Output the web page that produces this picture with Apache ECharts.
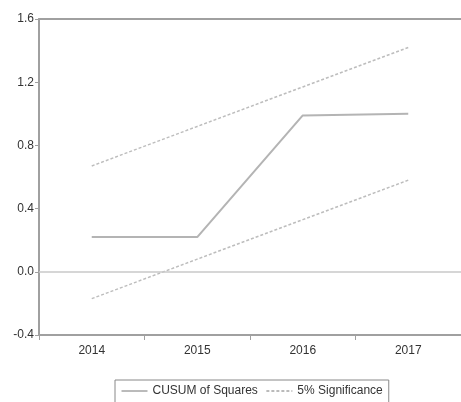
<!DOCTYPE html>
<html>
<head>
<meta charset="utf-8">
<script src="https://cdn.jsdelivr.net/npm/echarts@6/dist/echarts.min.js"></script>
<style>
html,body{margin:0;padding:0;background:#fff;}
#chart{width:461px;height:402px;}
</style>
</head>
<body>
<div id="chart"></div>
<script>
// Recursive residual test: CUSUM of squares with 5% significance bounds
const years = ['2014', '2015', '2016', '2017'];
const cusumSq = [0.22, 0.22, 0.99, 1.00];
const upperBound = [0.67, 0.92, 1.17, 1.42];
const lowerBound = [-0.17, 0.08, 0.33, 0.58];
const yTicks = { min: -0.4, max: 1.6, step: 0.4 };

const chart = echarts.init(document.getElementById('chart'), null, { renderer: 'canvas' });

const axisLineStyle = { color: '#a0a0a0', width: 2 };
const labelFont = { color: '#333', fontSize: 12, fontFamily: 'Liberation Sans, Arial, sans-serif' };

chart.setOption({
  animation: false,
  backgroundColor: '#fff',
  grid: { left: 39, right: 0, top: 19, bottom: 67 },
  legend: {
    left: 115,
    top: 380,
    orient: 'horizontal',
    padding: [5, 6, 8, 6],
    borderColor: '#888',
    borderWidth: 1,
    itemWidth: 26,
    itemHeight: 8,
    itemGap: 8,
    itemStyle: { opacity: 0 },
    lineStyle: { color: '#777', width: 1 },
    textStyle: { color: '#333', fontSize: 12, fontFamily: 'Liberation Sans, Arial, sans-serif' },
    data: ['CUSUM of Squares', '5% Significance']
  },
  xAxis: [{
    type: 'category',
    data: years,
    boundaryGap: true,
    axisLine: { onZero: false, lineStyle: axisLineStyle },
    axisTick: { show: true, length: 5, lineStyle: { color: '#a0a0a0' } },
    axisLabel: Object.assign({ margin: 10 }, labelFont),
    splitLine: { show: false }
  }, {
    type: 'category',
    data: years,
    position: 'top',
    axisLine: { onZero: false, lineStyle: axisLineStyle },
    axisTick: { show: false },
    axisLabel: { show: false }
  }],
  yAxis: {
    type: 'value',
    min: yTicks.min,
    max: yTicks.max,
    interval: yTicks.step,
    axisLine: { show: true, lineStyle: axisLineStyle },
    axisTick: { show: true, length: 4, lineStyle: { color: '#a0a0a0' } },
    axisLabel: Object.assign({ margin: 5, formatter: v => v.toFixed(1) }, labelFont),
    splitLine: { show: false }
  },
  series: [
    {
      name: 'CUSUM of Squares',
      type: 'line',
      data: cusumSq,
      symbol: 'none',
      color: '#666',
      lineStyle: { color: '#b4b4b4', width: 2 },
      markLine: {
        silent: true,
        symbol: 'none',
        label: { show: false },
        lineStyle: { color: '#c8c8c8', width: 1.5, type: 'solid' },
        data: [{ yAxis: 0 }]
      }
    },
    {
      name: '5% Significance',
      type: 'line',
      data: upperBound,
      symbol: 'none',
      color: '#666',
      lineStyle: { color: '#bdbdbd', width: 1.5, type: [3, 2] }
    },
    {
      name: '5% Significance',
      type: 'line',
      data: lowerBound,
      symbol: 'none',
      color: '#666',
      lineStyle: { color: '#bdbdbd', width: 1.5, type: [3, 2] }
    }
  ]
});
</script>
</body>
</html>
